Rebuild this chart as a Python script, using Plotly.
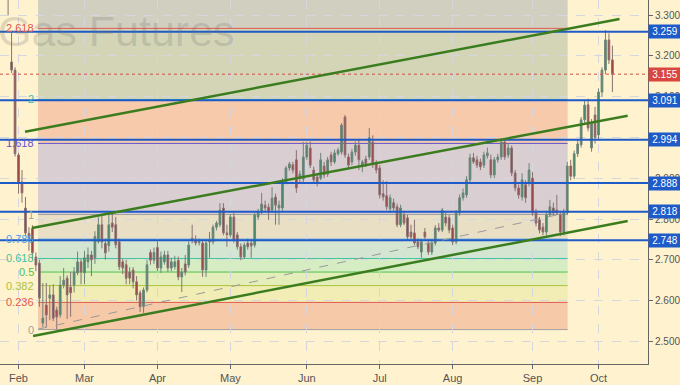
import pandas as pd
import plotly.graph_objects as go

# ---------------- data ----------------
holidays = ["2018-02-19", "2018-03-30", "2018-05-28", "2018-07-04", "2018-09-03"]
dates = pd.bdate_range("2018-01-25", "2018-10-05", freq="C", holidays=holidays)

opens = [3.52, 3.50, 3.43, 3.185, 3.165,
         2.957, 2.891, 2.827, 2.765, 2.777, 2.707, 2.692, 2.545, 2.589, 2.606,
         2.614, 2.577, 2.565, 2.638, 2.655, 2.633, 2.638, 2.668, 2.695,
         2.668, 2.695, 2.712, 2.705, 2.745, 2.786, 2.740, 2.735, 2.790, 2.786,
         2.744, 2.695, 2.688, 2.670, 2.675, 2.646, 2.619, 2.585, 2.626, 2.718, 2.699,
         2.730, 2.680, 2.695, 2.712, 2.680, 2.683, 2.699, 2.658, 2.690, 2.687,
         2.753, 2.748, 2.742, 2.741, 2.675, 2.748, 2.744, 2.780, 2.786, 2.827, 2.766,
         2.761, 2.805, 2.761, 2.732, 2.707, 2.741, 2.741, 2.736, 2.805, 2.817,
         2.834, 2.829, 2.822, 2.854, 2.827, 2.827, 2.891, 2.925, 2.933, 2.945,
         2.900, 2.898, 2.952, 2.974, 2.920, 2.903, 2.900, 2.930, 2.910, 2.957,
         2.940, 2.960, 2.964, 3.050, 2.952, 2.940, 2.964, 2.981, 2.928, 2.947,
         2.952, 2.989, 2.937, 2.925, 2.862, 2.857, 2.825, 2.840, 2.830, 2.786,
         2.810, 2.803, 2.768, 2.766, 2.744, 2.719, 2.768, 2.741, 2.719, 2.741,
         2.778, 2.773, 2.805, 2.803, 2.778, 2.744, 2.815, 2.852, 2.859, 2.896,
         2.950, 2.945, 2.940, 2.932, 2.955, 2.945, 2.908, 2.945, 2.952, 2.989,
         2.957, 2.974, 2.913, 2.876, 2.854, 2.884, 2.888, 2.900, 2.815, 2.798,
         2.780, 2.768, 2.810, 2.827, 2.822, 2.810, 2.768, 2.815, 2.930, 2.905,
         2.960, 2.982, 3.043, 3.080, 2.974, 3.055, 3.006, 3.111, 3.165, 3.239, 3.190]
highs = [3.56, 3.53, 3.45, 3.26, 3.172,
         2.962, 2.920, 2.854, 2.780, 2.785, 2.718, 2.700, 2.643, 2.643, 2.637,
         2.640, 2.585, 2.660, 2.680, 2.662, 2.670, 2.682, 2.720, 2.702,
         2.722, 2.730, 2.722, 2.770, 2.805, 2.810, 2.752, 2.810, 2.815, 2.805,
         2.752, 2.702, 2.700, 2.682, 2.682, 2.660, 2.625, 2.632, 2.700, 2.725, 2.730,
         2.745, 2.720, 2.722, 2.722, 2.705, 2.710, 2.708, 2.680, 2.712, 2.745,
         2.786, 2.760, 2.752, 2.750, 2.748, 2.768, 2.786, 2.795, 2.839, 2.839, 2.786,
         2.812, 2.815, 2.768, 2.740, 2.742, 2.752, 2.750, 2.815, 2.825, 2.864,
         2.845, 2.838, 2.878, 2.862, 2.845, 2.900, 2.930, 2.940, 2.940, 2.969,
         2.918, 2.989, 2.989, 2.990, 2.928, 2.910, 2.962, 2.940, 2.952, 2.965,
         2.970, 2.975, 3.035, 3.055, 2.960, 2.972, 2.990, 2.995, 2.945, 2.955,
         3.023, 3.005, 2.945, 2.932, 2.895, 2.893, 2.860, 2.850, 2.838, 2.835,
         2.820, 2.810, 2.786, 2.798, 2.752, 2.750, 2.778, 2.750, 2.748, 2.785,
         2.790, 2.827, 2.815, 2.810, 2.786, 2.822, 2.860, 2.875, 2.905, 2.960,
         2.962, 2.955, 2.948, 2.965, 2.975, 2.958, 2.952, 2.960, 2.994, 2.998,
         2.985, 2.980, 2.920, 2.885, 2.912, 2.895, 2.937, 2.915, 2.825, 2.805,
         2.790, 2.820, 2.847, 2.840, 2.859, 2.820, 2.825, 2.940, 2.945, 2.968,
         2.995, 3.050, 3.092, 3.095, 3.045, 3.075, 3.120, 3.172, 3.263, 3.255, 3.225]
lows = [3.46, 3.41, 3.30, 3.158, 2.953,
        2.862, 2.840, 2.758, 2.722, 2.700, 2.672, 2.585, 2.535, 2.535, 2.552,
        2.550, 2.529, 2.558, 2.630, 2.555, 2.560, 2.620, 2.662, 2.640,
        2.640, 2.680, 2.660, 2.690, 2.740, 2.728, 2.700, 2.720, 2.768, 2.728,
        2.675, 2.665, 2.640, 2.640, 2.630, 2.600, 2.572, 2.570, 2.620, 2.688, 2.690,
        2.672, 2.668, 2.688, 2.670, 2.672, 2.676, 2.650, 2.621, 2.662, 2.680,
        2.740, 2.735, 2.735, 2.658, 2.658, 2.705, 2.738, 2.772, 2.780, 2.760, 2.732,
        2.755, 2.742, 2.725, 2.699, 2.702, 2.725, 2.705, 2.730, 2.798, 2.812,
        2.820, 2.798, 2.815, 2.786, 2.786, 2.820, 2.885, 2.918, 2.912, 2.864,
        2.888, 2.890, 2.945, 2.925, 2.890, 2.880, 2.895, 2.900, 2.903, 2.930,
        2.935, 2.955, 2.958, 2.950, 2.925, 2.932, 2.955, 2.920, 2.915, 2.928,
        2.945, 2.925, 2.912, 2.850, 2.845, 2.822, 2.815, 2.820, 2.780, 2.780,
        2.785, 2.748, 2.750, 2.736, 2.726, 2.705, 2.750, 2.712, 2.712, 2.735,
        2.768, 2.768, 2.782, 2.765, 2.736, 2.738, 2.808, 2.845, 2.852, 2.890,
        2.935, 2.925, 2.920, 2.925, 2.948, 2.900, 2.900, 2.938, 2.945, 2.945,
        2.950, 2.905, 2.868, 2.850, 2.845, 2.840, 2.880, 2.808, 2.782, 2.765,
        2.760, 2.760, 2.805, 2.810, 2.810, 2.758, 2.760, 2.810, 2.895, 2.898,
        2.952, 2.975, 3.035, 3.015, 2.965, 2.985, 2.995, 3.100, 3.155, 3.180, 3.111]
closes = [3.50, 3.44, 3.37, 3.165, 2.960,
          2.888, 2.864, 2.766, 2.752, 2.717, 2.687, 2.606, 2.557, 2.565, 2.614,
          2.557, 2.560, 2.638, 2.650, 2.614, 2.619, 2.670, 2.695, 2.670,
          2.705, 2.712, 2.700, 2.757, 2.786, 2.744, 2.717, 2.786, 2.780, 2.737,
          2.683, 2.680, 2.655, 2.655, 2.646, 2.614, 2.585, 2.626, 2.688, 2.699, 2.718,
          2.680, 2.707, 2.712, 2.680, 2.695, 2.695, 2.658, 2.670, 2.670, 2.736,
          2.748, 2.741, 2.745, 2.675, 2.741, 2.744, 2.780, 2.790, 2.822, 2.766, 2.762,
          2.805, 2.748, 2.732, 2.707, 2.736, 2.732, 2.734, 2.810, 2.817, 2.837,
          2.827, 2.817, 2.851, 2.834, 2.834, 2.891, 2.925, 2.935, 2.920, 2.876,
          2.910, 2.952, 2.981, 2.932, 2.896, 2.891, 2.945, 2.908, 2.945, 2.940,
          2.962, 2.969, 3.030, 2.957, 2.932, 2.964, 2.981, 2.945, 2.940, 2.935,
          2.999, 2.937, 2.920, 2.859, 2.854, 2.830, 2.852, 2.827, 2.786, 2.827,
          2.790, 2.756, 2.756, 2.741, 2.732, 2.744, 2.756, 2.719, 2.741, 2.778,
          2.773, 2.822, 2.790, 2.773, 2.744, 2.815, 2.852, 2.864, 2.896, 2.950,
          2.940, 2.932, 2.928, 2.957, 2.962, 2.908, 2.945, 2.952, 2.989, 2.952,
          2.974, 2.913, 2.876, 2.859, 2.896, 2.852, 2.920, 2.815, 2.790, 2.773,
          2.768, 2.810, 2.830, 2.815, 2.815, 2.768, 2.815, 2.930, 2.905, 2.960,
          2.984, 3.043, 3.079, 3.023, 3.035, 3.000, 3.111, 3.165, 3.239, 3.190, 3.155]

assert len(dates) == len(opens) == len(highs) == len(lows) == len(closes)

month_ticks = ["2018-02-01", "2018-03-01", "2018-04-02", "2018-05-01", "2018-06-01",
               "2018-07-02", "2018-08-01", "2018-09-04", "2018-10-01"]
month_labels = ["Feb", "Mar", "Apr", "May", "Jun", "Jul", "Aug", "Sep", "Oct"]

key_levels = [3.259, 3.091, 2.994, 2.888, 2.818, 2.748]
last_price = 3.155

fib_low = 2.529
fib_high = 2.811
fib_ratios = [0, 0.236, 0.382, 0.5, 0.618, 0.786, 1, 1.618, 2, 2.618]
fib_labels = ["0", "0.236", "0.382", "0.5", "0.618", "0.786", "1", "1.618", "2", "2.618"]
fib_start, fib_end = "2018-02-09 03:00", "2018-09-18 14:30"

channel_upper = (("2018-02-05 09:00", 3.014), ("2018-10-09 13:00", 3.290))
channel_mid = (("2018-02-07 09:20", 2.778), ("2018-10-11 21:30", 3.053))
channel_low = (("2018-02-07 16:20", 2.513), ("2018-10-11 21:30", 2.795))
dashed_trend = (("2018-02-09 03:00", 2.530), ("2018-09-14 13:00", 2.812))

# ---------------- style ----------------
BG = "#FFF2CE"
fib_line_colors = ["#A0A0A0", "#E0584F", "#A9C43C", "#4DC24D", "#3FC6A0",
                   "#4AA0E6", "#A0A0A0", "#5A55D0", "#2EC4B6", "#E0584F"]
fib_fill_colors = ["#F6C9A9", "#F1EDB5", "#E3EEBB", "#D6EDC4", "#D4E6D1",
                   "#E9DFC5", "#D9CED2", "#F6CAAA", "#D3D5B6", "#D1CFC0"]
BLUE = "#1E5AC8"
GREEN = "#3B7D1E"

y_lo, y_hi = 2.4446, 3.3368

x = dates + pd.Timedelta(hours=12)

fig = go.Figure()
fig.add_trace(go.Candlestick(
    x=x, open=opens, high=highs, low=lows, close=closes,
    increasing=dict(line=dict(color="#6F8579", width=1), fillcolor="#3E8C6C"),
    decreasing=dict(line=dict(color="#8A7272", width=1), fillcolor="#A63A3A"),
    whiskerwidth=0, showlegend=False, hoverinfo="skip",
))

shapes = []
fib_prices = [fib_low + r * (fib_high - fib_low) for r in fib_ratios]
bands = fib_prices + [y_hi]
for i, fc in enumerate(fib_fill_colors):
    shapes.append(dict(type="rect", xref="x", yref="y", x0=fib_start, x1=fib_end,
                       y0=bands[i], y1=bands[i + 1], fillcolor=fc,
                       line=dict(width=0), layer="below"))
for p, c in zip(fib_prices, fib_line_colors):
    shapes.append(dict(type="line", xref="x", yref="y", x0=fib_start, x1=fib_end,
                       y0=p, y1=p, line=dict(color=c, width=1), layer="below"))

for lv in key_levels:
    shapes.append(dict(type="line", xref="paper", yref="y", x0=0, x1=1, y0=lv, y1=lv,
                       line=dict(color=BLUE, width=2), layer="above"))
shapes.append(dict(type="line", xref="paper", yref="y", x0=0, x1=1, y0=last_price,
                   y1=last_price, line=dict(color="#D0504A", width=1, dash="dot"),
                   layer="above"))
shapes.append(dict(type="line", xref="x", yref="y", x0=dashed_trend[0][0], y0=dashed_trend[0][1],
                   x1=dashed_trend[1][0], y1=dashed_trend[1][1],
                   line=dict(color="#9A9A9A", width=1, dash="dash"), layer="above"))
for (a, b) in (channel_upper, channel_mid, channel_low):
    shapes.append(dict(type="line", xref="x", yref="y", x0=a[0], y0=a[1], x1=b[0], y1=b[1],
                       line=dict(color=GREEN, width=2.5), layer="above"))

annotations = []
annotations.append(dict(xref="paper", yref="paper", x=-0.006, y=0.915, xanchor="left",
                        yanchor="middle", text="Gas Futures", showarrow=False,
                        font=dict(family="Liberation Sans, Arial", size=43,
                                  color="rgba(110,110,110,0.22)")))
for p, lab, c in zip(fib_prices, fib_labels, fib_line_colors):
    annotations.append(dict(xref="paper", yref="y", x=36 / 648, y=p, xanchor="right",
                            yanchor="middle", text=lab, showarrow=False,
                            font=dict(family="Liberation Sans, Arial", size=11, color=c)))
for lv in key_levels:
    annotations.append(dict(xref="paper", yref="y", x=1, y=lv, xanchor="left",
                            yanchor="middle", text=f"{lv:.3f}", showarrow=False,
                            bgcolor=BLUE, borderpad=1, width=30,
                            font=dict(family="Liberation Sans, Arial", size=10, color="white")))
annotations.append(dict(xref="paper", yref="y", x=1, y=last_price, xanchor="left",
                        yanchor="middle", text=f"{last_price:.3f}", showarrow=False,
                        bgcolor="#D9463E", borderpad=1, width=30,
                        font=dict(family="Liberation Sans, Arial", size=10, color="white")))

fig.update_layout(
    width=680, height=385, autosize=False,
    margin=dict(l=0, r=32, t=0, b=21, autoexpand=False),
    paper_bgcolor=BG, plot_bgcolor=BG,
    shapes=shapes, annotations=annotations,
    showlegend=False,
    font=dict(family="Liberation Sans, Arial", color="#555555"),
    xaxis=dict(
        type="date", range=["2018-01-25 04:00", "2018-10-19 18:00"],
        rangebreaks=[dict(bounds=["sat", "mon"]), dict(values=holidays)],
        rangeslider=dict(visible=False),
        tickvals=[pd.Timestamp(t) + pd.Timedelta(hours=12) for t in month_ticks],
        ticktext=month_labels,
        showgrid=True, gridcolor="#D6D6DE", griddash="dash", gridwidth=1,
        showline=True, linecolor="#666666", linewidth=1,
        ticks="outside", ticklen=4, tickcolor="#666666",
        tickfont=dict(size=11, color="#555555"), zeroline=False,
    ),
    yaxis=dict(
        side="right", range=[y_lo, y_hi], tick0=2.5, dtick=0.1, tickformat=".3f",
        showgrid=True, gridcolor="#D6D6DE", griddash="dash", gridwidth=1,
        showline=True, linecolor="#666666", linewidth=1,
        ticks="outside", ticklen=4, tickcolor="#666666",
        tickfont=dict(size=10, color="#555555"), zeroline=False,
    ),
)

fig.write_html("out.html", config={"displayModeBar": False},
               post_script="document.body.style.margin='0';document.body.style.overflow='hidden';")
